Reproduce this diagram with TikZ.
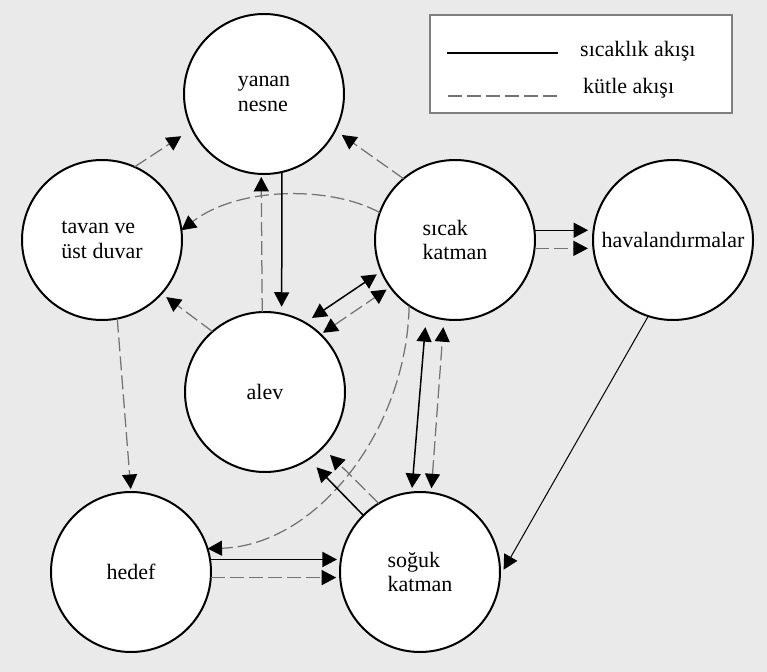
\documentclass[tikz,border=0pt]{standalone}
\usepackage{fontspec}
\setmainfont{Liberation Serif}
\usetikzlibrary{arrows.meta}
\definecolor{paper}{RGB}{234,234,234}
\definecolor{massgray}{RGB}{115,115,115}
\begin{document}
\begin{tikzpicture}[x=0.2mm,y=-0.2mm,font=\fontsize{12.5}{14.2}\selectfont,
  >={Triangle[length=2.9mm,width=3mm,color=black]},
  place/.style={circle,draw,fill=white,line width=0.4mm,minimum size=32mm,
    inner sep=0pt,outer sep=0pt,align=left},
  heat/.style={line width=0.3mm},
  mass/.style={line width=0.25mm,draw=massgray,dash pattern=on 2.8mm off 1mm}]
  \fill[paper] (0,0) rectangle (767,672);
  \useasboundingbox (0,0) rectangle (767,672);
  \node[place] (yanan) at (264,94) {yanan\\nesne};
  \node[place] (tavan) at (102,240) {tavan ve\\üst duvar};
  \node[place] (sicak) at (455,240) {sıcak\\katman};
  \node[place] (hava) at (673,240) {havalandırmalar};
  \node[place] (alev) at (265,392) {alev};
  \node[place] (hedef) at (131,572) {hedef};
  \node[place] (soguk) at (420,572) {soğuk\\katman};
  \draw[mass,->,shorten >=2.6mm] (tavan.66) -- (yanan.206);
  \draw[mass,->,shorten >=1.6mm] (sicak.130) -- (yanan.333);
  \draw[mass,->] (sicak.160) .. controls +(-49,-27) and +(57,-44) .. (tavan.7);
  \draw[heat,->,shorten >=1.4mm] (yanan.283) -- (alev.78);
  \draw[mass,->,shorten >=0.6mm] (alev.92) -- (yanan.268);
  \draw[mass,->,shorten >=1.2mm] (alev.131) -- (tavan.318);
  \draw[heat,<->,shorten <=1.7mm,shorten >=1.1mm] (alev.60) -- (sicak.203);
  \draw[mass,<->,shorten <=0.6mm,shorten >=0.9mm] (alev.46) -- (sicak.216);
  \draw[heat,<->,shorten <=0.9mm,shorten >=2.5mm] (soguk.96) -- (sicak.249);
  \draw[mass,<->,shorten <=0.9mm,shorten >=1.6mm] (soguk.82) -- (sicak.262);
  \draw[mass,->] (sicak.235) .. controls +(-2,123) and +(110,-3) .. (hedef.17);
  \draw[heat,->,shorten >=2.3mm] (soguk.135) -- (alev.303);
  \draw[mass,->,shorten >=2.1mm] (soguk.121) -- (alev.316);
  \draw[heat,->,shorten >=0.8mm] (hedef.9) -- (soguk.171);
  \draw[mass,->,shorten >=0.8mm] (hedef.356) -- (soguk.184);
  \draw[mass,->,shorten >=0.6mm] (tavan.281) -- (hedef.90);
  \draw[heat,->,line width=0.2mm,shorten >=1.5mm] (hava.252) -- (soguk.357);
  \draw[heat,->,shorten >=1.1mm] (sicak.7) -- (hava.173);
  \draw[mass,->,shorten >=1.1mm] (sicak.354) -- (hava.186);
  \draw[black!50,fill=white,line width=0.3mm] (430,15) rectangle (732,113);
  \draw[heat] (447,53) -- (558,53);
  \draw[mass] (448,96) -- (558,96);
  \node[anchor=base west] (keyheat) at (574,56) {sıcaklık akışı};
  \node[anchor=base west] (keymass) at (577,93) {kütle akışı};
\end{tikzpicture}
\end{document}
